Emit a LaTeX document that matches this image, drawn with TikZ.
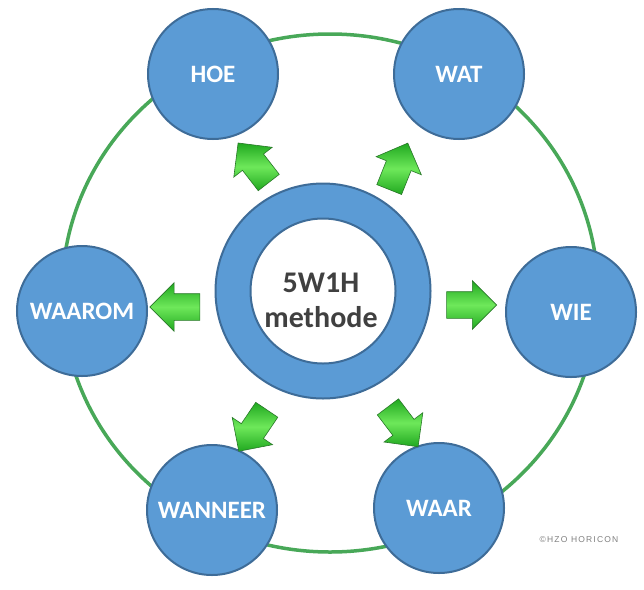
\documentclass[tikz,border=0pt]{standalone}
\usepackage{fontspec}
\setmainfont{Carlito}
\newfontfamily\credfont[LetterSpace=14]{Liberation Sans}
\usetikzlibrary{shapes.arrows}
\definecolor{circfill}{RGB}{91,155,213}
\definecolor{circline}{RGB}{62,108,152}
\definecolor{ringgreen}{RGB}{72,168,88}
\definecolor{arrowlight}{RGB}{110,232,90}
\definecolor{arrowdark}{RGB}{32,168,32}
\definecolor{arrowline}{RGB}{40,120,40}
\definecolor{midtext}{RGB}{64,64,64}
\begin{document}
\begin{tikzpicture}[x=1pt,y=1pt,
  wcircle/.style={circle, fill=circfill, draw=circline, line width=2pt, minimum size=130pt, inner sep=0pt, text=white, font=\fontsize{25}{25}\selectfont\bfseries},
  garrow/.style={single arrow, single arrow head extend=11pt, text height=26pt, text depth=0pt, text width=0pt, minimum height=50pt, inner sep=0pt, draw=arrowline, line width=0.6pt, top color=arrowdark, bottom color=arrowdark, middle color=arrowlight},
  ringdisc/.style={circle, fill=circfill, draw=circline, line width=2pt, minimum size=215pt, inner sep=0pt},
  coredisc/.style={circle, fill=white, draw=circline, line width=2pt, minimum size=145pt, inner sep=0pt},
  coretext/.style={align=center, text=midtext, inner sep=0pt, font=\fontsize{30}{35}\selectfont\bfseries}
  ]
\useasboundingbox (0,0) rectangle (644,-589);
\fill[white] (0,0) rectangle (644,-589);
\coordinate (gc) at (330,-293);
\draw[ringgreen, line width=3.5pt] (gc) ellipse [x radius=268, y radius=259];
\node[ringdisc] (ring) at (323,-291) {};
\node[coredisc] (core) at (323,-291) {};
\node[coretext] (title) at (321,-300) {5W1H\\methode};
\node[wcircle] (hoe) at (213,-74) {HOE};
\node[wcircle] (wat) at (459,-74) {WAT};
\node[wcircle] (waarom) at (82,-311) {WAAROM};
\node[wcircle] (wie) at (571,-312) {WIE};
\node[wcircle] (wanneer) at (212,-510) {WANNEER};
\node[wcircle] (waar) at (439,-508) {WAAR};
\node[garrow, rotate=127.8] (ahoe) at (257.5,-168) {};
\node[garrow, rotate=68.2] (awat) at (396,-172.5) {};
\node[garrow, rotate=180] (awaarom) at (181.5,-307) {};
\node[garrow] (awie) at (465,-305) {};
\node[garrow, rotate=-124] (awanneer) at (256.5,-425) {};
\node[garrow, rotate=-52.9] (awaar) at (399,-421.5) {};
\node[font=\credfont\fontsize{8.5}{8.5}\selectfont, text=gray] (cred) at (579,-540) {©HZO HORICON};
\end{tikzpicture}
\end{document}
